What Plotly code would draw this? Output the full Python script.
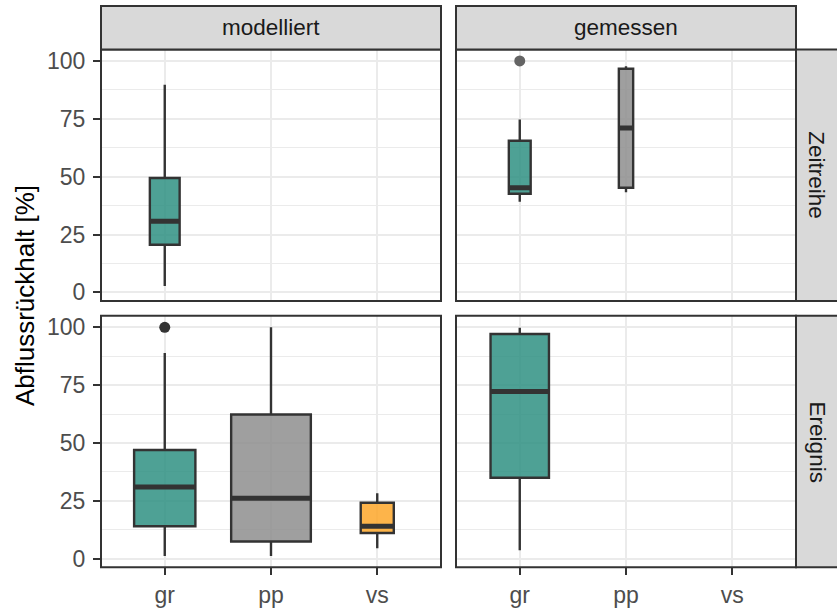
import plotly.graph_objects as go
import numpy as np

# ---------------- data ----------------
categories = ["gr", "pp", "vs"]
col_facets = ["modelliert", "gemessen"]
row_facets = ["Zeitreihe", "Ereignis"]

# one entry per box
box_row = ["Zeitreihe", "Zeitreihe", "Zeitreihe", "Ereignis", "Ereignis", "Ereignis", "Ereignis"]
box_col = ["modelliert", "gemessen", "gemessen", "modelliert", "modelliert", "modelliert", "gemessen"]
box_cat = ["gr", "gr", "pp", "gr", "pp", "vs", "gr"]
box_lower = [2.7, 39.2, 43.3, 1.2, 1.2, 4.5, 3.6]
box_q1 = [20.6, 42.6, 45.2, 14.0, 7.4, 11.1, 35.0]
box_median = [30.7, 45.2, 71.0, 31.0, 26.1, 14.0, 72.2]
box_q3 = [49.4, 65.5, 96.6, 47.0, 62.3, 24.2, 97.1]
box_upper = [89.7, 74.7, 97.7, 88.9, 100.0, 28.3, 99.8]
box_n = [13, 7, 3, 55, 93, 16, 50]

# outliers
out_row = ["Zeitreihe", "Ereignis"]
out_col = ["gemessen", "modelliert"]
out_cat = ["gr", "gr"]
out_val = [100.0, 100.0]

y_ticks = [0, 25, 50, 75, 100]

# ---------------- style ----------------
W, H = 837, 608
fill = {"gr": "rgba(47,145,131,0.85)", "pp": "rgba(142,142,142,0.85)", "vs": "rgba(253,167,42,0.85)"}
out_color = {("Zeitreihe", "gemessen"): "#646464", ("Ereignis", "modelliert"): "#333333"}
MAX_W = 0.75
DARK = "#333333"
GRID = "#ebebeb"
FONT = "Liberation Sans, Arial, sans-serif"

# y range: data range with 5% expansion (as ggplot)
dmin = min(box_lower + out_val)
dmax = max(box_upper + out_val)
span = dmax - dmin
y_range = [dmin - 0.05 * span, dmax + 0.05 * span]

# panel pixel boxes
px_x = {"modelliert": (101, 441), "gemessen": (456, 796)}
px_y = {"Zeitreihe": (49, 303), "Ereignis": (318, 572)}

def fx(p):
    return p / W

def fy(p):
    return 1 - p / H

def axis_id(r, c):
    i = row_facets.index(r) * 2 + col_facets.index(c) + 1
    return ("" if i == 1 else str(i))

fig = go.Figure()
layout = {}
for r in row_facets:
    for c in col_facets:
        s = axis_id(r, c)
        bottom = r == row_facets[-1]
        left = c == col_facets[0]
        layout["xaxis" + s] = dict(
            domain=[fx(px_x[c][0]), fx(px_x[c][1])], range=[0.4, 3.6],
            anchor="y" + s, tickvals=[1, 2, 3], ticktext=categories,
            showgrid=True, gridcolor=GRID, gridwidth=2.2, zeroline=False,
            showticklabels=bottom, ticks="outside" if bottom else "",
            ticklen=7, tickwidth=2, tickcolor=DARK,
            tickfont=dict(family=FONT, size=23, color="#4d4d4d"),
            showline=False, fixedrange=True,
        )
        layout["yaxis" + s] = dict(
            domain=[fy(px_y[r][1]), fy(px_y[r][0])], range=y_range,
            anchor="x" + s, tickvals=y_ticks,
            showgrid=True, gridcolor=GRID, gridwidth=2.2, zeroline=False,
            minor=dict(tickvals=[12.5, 37.5, 62.5, 87.5], showgrid=True, gridcolor=GRID, gridwidth=1.2),
            showticklabels=left, ticks="outside" if left else "",
            ticklen=7, tickwidth=2, tickcolor=DARK, ticklabelstandoff=3,
            tickfont=dict(family=FONT, size=23, color="#4d4d4d"),
            showline=False, fixedrange=True,
        )

nmax = max(box_n)
for i in range(len(box_cat)):
    s = axis_id(box_row[i], box_col[i])
    pos = categories.index(box_cat[i]) + 1
    w = MAX_W * np.sqrt(box_n[i] / nmax)
    fig.add_trace(go.Box(
        x=[pos], q1=[box_q1[i]], median=[box_median[i]], q3=[box_q3[i]],
        lowerfence=[box_lower[i]], upperfence=[box_upper[i]],
        width=w, fillcolor=fill[box_cat[i]], line=dict(color=DARK, width=2.4),
        whiskerwidth=0, boxpoints=False, showlegend=False, hoverinfo="skip",
        xaxis="x" + s, yaxis="y" + s,
    ))
    fig.add_trace(go.Scatter(
        x=[pos - w / 2, pos + w / 2], y=[box_median[i], box_median[i]],
        mode="lines", line=dict(color=DARK, width=5), showlegend=False,
        hoverinfo="skip", xaxis="x" + s, yaxis="y" + s,
    ))

for i in range(len(out_val)):
    s = axis_id(out_row[i], out_col[i])
    fig.add_trace(go.Scatter(
        x=[categories.index(out_cat[i]) + 1], y=[out_val[i]], mode="markers",
        marker=dict(size=11, color=out_color[(out_row[i], out_col[i])], line=dict(width=0)),
        showlegend=False, hoverinfo="skip", xaxis="x" + s, yaxis="y" + s,
    ))

shapes = []
annotations = []
# panel borders
for r in row_facets:
    for c in col_facets:
        shapes.append(dict(type="rect", xref="paper", yref="paper",
                           x0=fx(px_x[c][0]), x1=fx(px_x[c][1]),
                           y0=fy(px_y[r][1]), y1=fy(px_y[r][0]),
                           line=dict(color=DARK, width=2), fillcolor="rgba(0,0,0,0)", layer="above"))
# top strips
for c in col_facets:
    shapes.append(dict(type="rect", xref="paper", yref="paper",
                       x0=fx(px_x[c][0]), x1=fx(px_x[c][1]), y0=fy(49), y1=fy(5),
                       line=dict(color=DARK, width=2), fillcolor="#d9d9d9", layer="above"))
    annotations.append(dict(text=c, x=fx((px_x[c][0] + px_x[c][1]) / 2), y=fy(27),
                            xref="paper", yref="paper", showarrow=False,
                            font=dict(family=FONT, size=22.5, color="#1a1a1a"),
                            xanchor="center", yanchor="middle"))
# right strips
for r in row_facets:
    shapes.append(dict(type="rect", xref="paper", yref="paper",
                       x0=fx(796), x1=fx(838), y0=fy(px_y[r][1]), y1=fy(px_y[r][0]),
                       line=dict(color=DARK, width=2), fillcolor="#d9d9d9", layer="above"))
    annotations.append(dict(text=r, x=fx(817), y=fy((px_y[r][0] + px_y[r][1]) / 2),
                            xref="paper", yref="paper", showarrow=False, textangle=90,
                            font=dict(family=FONT, size=22.5, color="#1a1a1a"),
                            xanchor="center", yanchor="middle"))
# y title
annotations.append(dict(text="Abflussrückhalt [%]", x=fx(25), y=fy(298),
                        xref="paper", yref="paper", showarrow=False, textangle=-90,
                        font=dict(family=FONT, size=26, color="#000000"),
                        xanchor="center", yanchor="middle"))

fig.update_layout(
    width=W, height=H, margin=dict(l=0, r=0, t=0, b=0),
    paper_bgcolor="white", plot_bgcolor="white",
    shapes=shapes, annotations=annotations, showlegend=False,
    **layout,
)
fig.write_html("out.html", include_plotlyjs=True, config={"displayModeBar": False})
